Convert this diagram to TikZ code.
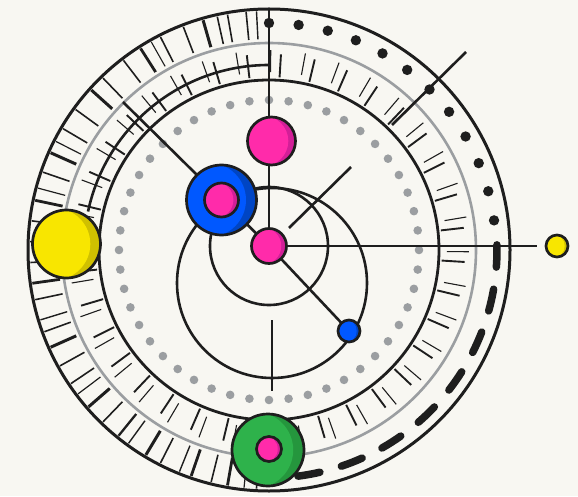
\documentclass[tikz,border=0pt]{standalone}
\usetikzlibrary{calc}
\definecolor{paper}{HTML}{F8F7F2}
\definecolor{ink}{HTML}{1E1E1E}
\definecolor{ringgray}{HTML}{9B9EA1}
\definecolor{pinkL}{HTML}{FF2BAA}
\definecolor{pinkD}{HTML}{D21F98}
\definecolor{blueL}{HTML}{0058FF}
\definecolor{blueD}{HTML}{0045C4}
\definecolor{greenL}{HTML}{2EB24B}
\definecolor{greenD}{HTML}{25963D}
\definecolor{yellowL}{HTML}{F8E600}
\definecolor{yellowD}{HTML}{D0C000}

\begin{document}
\begin{tikzpicture}[x=1pt,y=1pt,
  wire/.style={draw=ink,line width=2.6pt},
  planet/.style n args={3}{circle,draw=ink,line width=2.7pt,fill=#1,inner sep=0pt,minimum size=#3,
    path picture={\fill[#2] let \p1=(path picture bounding box.west),\p2=(path picture bounding box.east)
      in ($(\p1)!0.32!(\p2)$) circle ({0.53*(\x2-\x1)});}}]
\fill[paper] (0,0) rectangle (578,496);
\useasboundingbox (0,0) rectangle (578,496);
\coordinate (O) at (269,246);
\coordinate (c-hub) at (269,250);
\coordinate (c-orbit) at (272,213);
\coordinate (c-moon) at (349,165);
\coordinate (ttop) at (269,487);
\coordinate (hend) at (537,250);
\coordinate (bend) at (123,394);
\coordinate (d1) at (289,268);
\coordinate (d2) at (351,329);
\coordinate (d3) at (392,371);
\coordinate (d4) at (466,444);
\coordinate (v1) at (272,176);
\coordinate (v2) at (272,105);

\draw[ink,line width=3pt] (O) circle (241);
\draw[ringgray,line width=2.6pt] (O) circle (207);
\draw[ink,line width=2.8pt] (O) circle (170);
\draw[ink,line width=2.6pt] ($(O)+(90:185)$) arc (90:168:185);
\foreach \a/\w in {93/1.4,95.5/1.6,100/1.6,102.5/1.6,106/3,111/1.6,117/1.6,119.5/1.1,122.5/2.8,127.5/1.6,
  134/1.6,138/3,144/1.6,149.5/1.6,153/1.2,156/3,161/1.6,165/1.2,168/2.8,173/1.6,178/1.6,183/1.6,188/2.8,
  192/1.6,197/1.4,200/1.6,204/3,209/1.6,214/1.6,217/1.2,221/3,226/1.6,231/2.3,234/1.4,239/3,243/1.6,
  248/1.4,251/2.8,256/1.6,260/2.8,264/1.2,267/1.6}
  \draw[ink,line width=\w pt] ($(O)+(\a:211)$) -- ($(O)+(\a:239)$);
\foreach \a in {0,10,...,350}{
  \draw[ink,line width=1.1pt] ($(O)+({\a-0.5}:178)$) -- ($(O)+({\a-0.5}:200)$);
  \draw[ink,line width=1.9pt] ($(O)+({\a-3.5}:173)$) -- ($(O)+({\a-3.5}:196)$);
}
\foreach \a in {0,7.5,...,352.5}
  \fill[ringgray] ($(O)+(\a:150)$) circle (4.3);
\foreach \a in {7.5,15,...,90}
  \fill[ink] ($(O)+(\a:227)$) circle (5.2);
\foreach \a in {-1.5,-12.7,...,-80}
  \draw[ink,line width=7.5pt,line cap=round] ($(O)+({\a+2.8}:228)$) arc ({\a+2.8}:{\a-2.8}:228);

\draw[wire] (ttop) -- (c-hub);
\draw[wire] (c-hub) -- (hend);
\draw[wire] (c-hub) -- (bend);
\draw[wire] (c-hub) -- (c-moon);
\draw[wire] (d1) -- (d2);
\draw[wire] (d3) -- (d4);
\draw[wire] (v1) -- (v2);
\draw[wire] (c-hub) circle (59);
\draw[wire] (c-orbit) circle (95);

\node[planet={pinkD}{pinkL}{48pt}] (crown) at (271.5,355) {};
\node[planet={blueD}{blueL}{70pt}] (sapphire) at (221.5,296) {};
\node[planet={pinkD}{pinkL}{34pt}] (sapphirecore) at (sapphire) {};
\node[planet={pinkD}{pinkL}{35pt}] (hub) at (c-hub) {};
\node[planet={greenD}{greenL}{72pt}] (emerald) at (268,46) {};
\node[planet={pinkD}{pinkL}{25pt}] (emeraldcore) at (269,47) {};
\node[planet={yellowD}{yellowL}{68pt}] (sun) at (66.5,252) {};
\node[planet={yellowD}{yellowL}{22pt}] (spark) at (557,250) {};
\node[planet={blueD}{blueL}{22pt}] (moon) at (c-moon) {};
\end{tikzpicture}
\end{document}
